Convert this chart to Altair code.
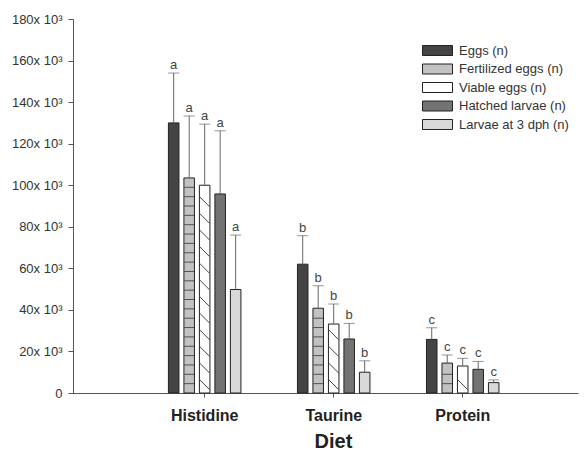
import altair as alt
import numpy as np
import pandas as pd

diets = ["Histidine", "Taurine", "Protein"]
series = ["Eggs (n)", "Fertilized eggs (n)", "Viable eggs (n)", "Hatched larvae (n)", "Larvae at 3 dph (n)"]
letters = ["a", "b", "c"]

histidine_mean = [130000, 103500, 100000, 95800, 49800]
histidine_sd = [24000, 29800, 29400, 30400, 26200]
taurine_mean = [62000, 40800, 33200, 26000, 10000]
taurine_sd = [13700, 10800, 9600, 7500, 5500]
protein_mean = [25800, 14400, 13000, 11400, 5000]
protein_sd = [5600, 3900, 3700, 3800, 1300]

fills = ["#444444", "#c2c2c2", "#ffffff", "#737373", "#d9d9d9"]

rows = []
for diet, letter, means, sds in zip(diets, letters,
                                    [histidine_mean, taurine_mean, protein_mean],
                                    [histidine_sd, taurine_sd, protein_sd]):
    for s, m, sd in zip(series, means, sds):
        rows.append({"diet": diet, "series": s, "mean": m, "top": m + sd, "letter": letter})
df = pd.DataFrame(rows)

# decorative hatching derived from the bar heights (pattern fills)
stripe_rows, diag_rows = [], []
for r in rows:
    if r["series"] == "Fertilized eggs (n)":
        for v in np.arange(4500, r["mean"] - 1500, 4500):
            stripe_rows.append({"diet": r["diet"], "series": r["series"], "v": float(v)})
    if r["series"] == "Viable eggs (n)":
        for v in np.arange(4000, r["mean"] - 2600, 8000):
            diag_rows.append({"diet": r["diet"], "series": r["series"], "v": float(v)})
stripes = pd.DataFrame(stripe_rows)
diags = pd.DataFrame(diag_rows)

FONT = "Liberation Sans"

x = alt.X("diet:N", sort=diets,
          scale=alt.Scale(domain=diets, paddingInner=0, paddingOuter=0.457, align=0.57),
          axis=alt.Axis(title="Diet", labelAngle=0, labelFont=FONT, labelFontSize=16,
                        labelFontWeight="bold", labelColor="#222", labelPadding=10,
                        titleFont=FONT, titleFontSize=20, titleFontWeight="bold",
                        titleColor="#222", titlePadding=8, titleX=260,
                        domainColor="#555", tickColor="#555", tickSize=4))
xo = alt.XOffset("series:N", sort=series,
                 scale=alt.Scale(domain=series, range=[28.2, 100.7],
                                 paddingInner=0.32, paddingOuter=0))

yscale = alt.Scale(domain=[0, 180000], nice=False)
y = alt.Y("mean:Q", scale=yscale,
          axis=alt.Axis(title=None, values=list(range(0, 180001, 20000)),
                        labelExpr="datum.value == 0 ? '0' : format(datum.value/1000, 'd') + 'x 10³'",
                        labelFont=FONT, labelFontSize=13, labelColor="#333",
                        labelPadding=6, tickSize=5, tickColor="#555",
                        domainColor="#555", grid=False))

base = alt.Chart(df)

bars = base.mark_bar(stroke="#222", strokeWidth=1).encode(
    x=x, xOffset=xo, y=y,
    color=alt.Color("series:N", sort=series,
                    scale=alt.Scale(domain=series, range=fills),
                    legend=alt.Legend(title=None, orient="none", legendX=358, legendY=25,
                                      symbolType="M-3,-1H3V1H-3Z", symbolSize=100,
                                      symbolStrokeColor="#222", symbolStrokeWidth=1,
                                      symbolOpacity=1,
                                      labelFont=FONT, labelFontSize=13, labelColor="#333",
                                      labelOffset=15, rowPadding=3.5, padding=0)),
)

stripe_layer = alt.Chart(stripes).mark_tick(color="#444", thickness=1, size=10, opacity=0.9).encode(
    x=x, xOffset=xo, y=alt.Y("v:Q", scale=yscale))

diag_layer = alt.Chart(diags).mark_point(shape="M-1,-1L1,1", size=100, filled=False,
                                         color="#444", strokeWidth=1, opacity=1).encode(
    x=x, xOffset=xo, y=alt.Y("v:Q", scale=yscale))

err = base.mark_rule(color="#666", strokeWidth=1).encode(
    x=x, xOffset=xo, y=y, y2="top:Q")

caps = base.mark_tick(color="#666", thickness=1, size=11).encode(
    x=x, xOffset=xo, y=alt.Y("top:Q"))

labels = base.mark_text(font=FONT, fontSize=13, fill="#444", baseline="bottom", dy=-1).encode(
    x=x, xOffset=xo, y=alt.Y("top:Q"), text="letter:N")

chart = alt.layer(bars, stripe_layer, diag_layer, err, caps, labels).properties(
    width=505, height=374,
    autosize=alt.AutoSizeParams(type="none"),
    padding={"left": 65, "top": 11, "right": 2, "bottom": 61},
).configure_view(stroke=None)

chart.save("out.html", embed_options={"renderer": "svg", "actions": False})
